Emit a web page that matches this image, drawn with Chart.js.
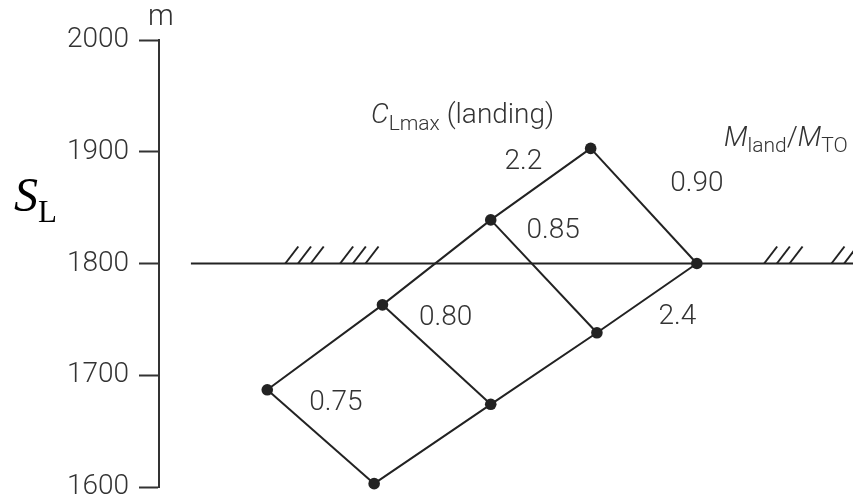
<!DOCTYPE html>
<html>
<head>
<meta charset="utf-8">
<script src="https://cdn.jsdelivr.net/npm/chart.js@4.4.1/dist/chart.umd.min.js"></script>
<style>
  html, body { margin: 0; padding: 0; background: #fff; }
  canvas { display: block; }
</style>
</head>
<body>
<canvas id="carpet" width="853" height="499"></canvas>
<script>
// Landing field length carpet: CLmax (landing) against mass ratio M_land/M_TO
const cLmaxLanding = [2.2, 2.4];
const massRatios = [0.75, 0.80, 0.85, 0.90];

// carpet abscissa of each grid node, ordered by mass ratio
const offsetCL22 = [15.6, 32.2, 47.8, 62.2];
const offsetCL24 = [31.0, 47.8, 63.1, 77.5];
// landing field length S_L in m of each grid node, ordered by mass ratio
const distanceCL22 = [1687, 1763, 1839, 1903];
const distanceCL24 = [1603, 1674, 1738, 1800];

// available landing field length (constraint line)
const fieldLength = 1800;
const fieldLineFrom = 4.6;
const fieldLineTo = 100;

const yTicks = [1600, 1700, 1800, 1900, 2000];

// where the curve labels sit (carpet abscissa, S_L)
const labelAnchors = [
  { text: cLmaxLanding[0].toFixed(1), x: 52.5, y: 1890.6 },
  { text: cLmaxLanding[1].toFixed(1), x: 74.7, y: 1752.4 },
  { text: massRatios[0].toFixed(2), x: 25.5, y: 1675.5 },
  { text: massRatios[1].toFixed(2), x: 41.3, y: 1751.0 },
  { text: massRatios[2].toFixed(2), x: 56.8, y: 1829.4 },
  { text: massRatios[3].toFixed(2), x: 77.5, y: 1871.0 }
];
// start of each hatch group on the constraint line
const hatchGroups = [18.2, 26.1, 87.2, 96.9];

const INK = '#222';
const TEXT = '#333';
const SANS = 'Roboto, "Liberation Sans", Arial, sans-serif';
const SERIF = '"Liberation Serif", "DejaVu Serif", serif';

const nodes = (xs, ys) => xs.map((x, i) => ({ x, y: ys[i] }));

const datasets = [];
datasets.push({
  label: 'CLmax ' + cLmaxLanding[0],
  data: nodes(offsetCL22, distanceCL22),
  order: 0
});
datasets.push({
  label: 'CLmax ' + cLmaxLanding[1],
  data: nodes(offsetCL24, distanceCL24),
  order: 1
});
massRatios.forEach((m, j) => {
  datasets.push({
    label: 'M_land/M_TO ' + m,
    data: [
      { x: offsetCL22[j], y: distanceCL22[j] },
      { x: offsetCL24[j], y: distanceCL24[j] }
    ],
    pointRadius: 0,
    order: 2
  });
});
datasets.push({
  label: 'field length',
  data: [{ x: fieldLineFrom, y: fieldLength }, { x: fieldLineTo, y: fieldLength }],
  pointRadius: 0,
  order: 3
});
datasets.forEach(d => {
  d.showLine = true;
  d.clip = false;
  d.borderColor = INK;
  d.borderWidth = 2;
  d.backgroundColor = INK;
  d.pointBackgroundColor = INK;
  d.pointBorderColor = INK;
  d.pointBorderWidth = 0;
  if (d.pointRadius === undefined) d.pointRadius = 5.8;
  d.tension = 0;
});

// draws a run of text pieces (font, vertical shift) starting at x on one baseline
function richText(ctx, x, baseline, pieces) {
  let cx = x;
  pieces.forEach(p => {
    ctx.font = p.font;
    ctx.fillText(p.text, cx, baseline + (p.dy || 0));
    cx += ctx.measureText(p.text).width;
  });
}

const carpetDecor = {
  id: 'carpetDecor',
  afterDatasetsDraw(chart) {
    const { ctx, scales: { x, y } } = chart;
    ctx.save();

    // hatching on the field length line
    const yLine = y.getPixelForValue(fieldLength);
    ctx.strokeStyle = INK;
    ctx.lineWidth = 2;
    ctx.lineCap = 'butt';
    hatchGroups.forEach(g => {
      const gx = x.getPixelForValue(g);
      for (let k = 0; k < 3; k++) {
        const x0 = gx + k * 12.7;
        ctx.beginPath();
        ctx.moveTo(x0, yLine);
        ctx.lineTo(x0 + 13, yLine - 17);
        ctx.stroke();
      }
    });

    // curve labels
    ctx.fillStyle = TEXT;
    ctx.textAlign = 'center';
    ctx.textBaseline = 'middle';
    ctx.font = '300 28px ' + SANS;
    labelAnchors.forEach(l => {
      ctx.fillText(l.text, x.getPixelForValue(l.x), y.getPixelForValue(l.y));
    });

    // family titles
    ctx.textAlign = 'left';
    ctx.textBaseline = 'alphabetic';
    richText(ctx, 371, 123, [
      { text: 'C', font: 'italic 300 28px ' + SANS },
      { text: 'Lmax', font: '300 21px ' + SANS, dy: 7 },
      { text: ' (landing)', font: '300 28px ' + SANS }
    ]);
    richText(ctx, 724, 146, [
      { text: 'M', font: 'italic 300 28px ' + SANS },
      { text: 'land', font: '300 21px ' + SANS, dy: 6 },
      { text: '/', font: '300 28px ' + SANS },
      { text: 'M', font: 'italic 300 28px ' + SANS },
      { text: 'TO', font: '300 21px ' + SANS, dy: 6 }
    ]);

    // axis unit and quantity
    const axisX = y.right;
    ctx.font = '300 29px ' + SANS;
    ctx.fillText('m', axisX - 11, 25);
    ctx.fillStyle = '#000';
    richText(ctx, 14, 211, [
      { text: 'S', font: 'italic 48px ' + SERIF },
      { text: 'L', font: '31px ' + SERIF, dy: 11 }
    ]);
    ctx.restore();
  }
};

new Chart(document.getElementById('carpet'), {
  type: 'scatter',
  data: { datasets },
  options: {
    responsive: false,
    animation: false,
    events: [],
    layout: { autoPadding: false, padding: { top: 40, bottom: 12, left: 0, right: 0 } },
    plugins: { legend: { display: false }, tooltip: { enabled: false } },
    scales: {
      x: { type: 'linear', min: 0, max: 100, display: false },
      y: {
        type: 'linear',
        min: 1600,
        max: 2000,
        afterBuildTicks: s => { s.ticks = yTicks.map(v => ({ value: v })); },
        afterFit: s => { s.width = 159; s.paddingTop = 0; s.paddingBottom = 0; },
        ticks: {
          color: TEXT,
          padding: 10,
          font: { family: SANS, size: 28, weight: 300 },
          callback: v => String(v)
        },
        grid: {
          drawOnChartArea: false,
          tickLength: 20,
          tickWidth: 2,
          color: '#333',
          tickColor: '#333'
        },
        border: { display: true, color: '#333', width: 2 }
      }
    }
  },
  plugins: [carpetDecor]
});
</script>
</body>
</html>
